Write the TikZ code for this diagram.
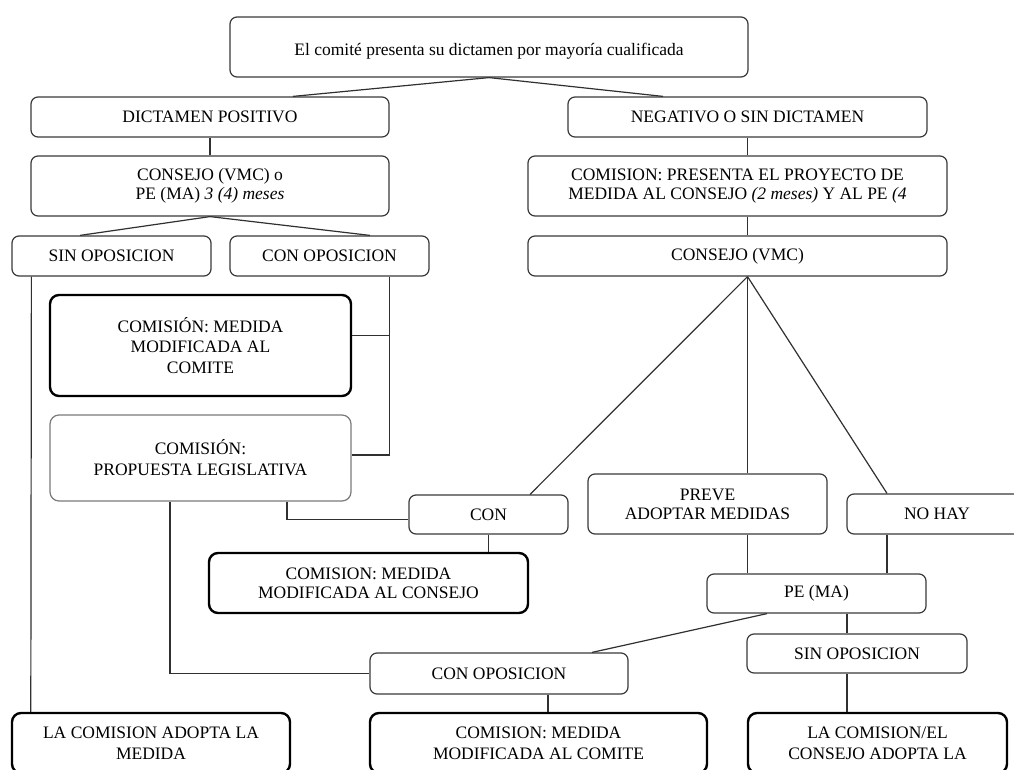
\documentclass[tikz,border=0pt]{standalone}
\usepackage{fontspec}
\setmainfont{Liberation Serif}
\definecolor{edgegray}{HTML}{3A3A3A}
\definecolor{softgray}{HTML}{7A7A7A}
\definecolor{linkgray}{HTML}{303030}
\tikzset{
  box/.style={draw=edgegray, line width=1.2pt, rounded corners=7pt, align=center, inner sep=2pt, fill=white},
  strongbox/.style={box, draw=black, line width=2.4pt, rounded corners=9pt},
  softbox/.style={box, draw=softgray, line width=1.2pt, rounded corners=9pt},
  link/.style={draw=linkgray, line width=1.2pt},
}
\begin{document}
\begin{tikzpicture}[x=1pt, y=-1pt, font=\fontsize{17.5}{19}\selectfont]
\useasboundingbox (0,0) rectangle (1014,770);
\clip (0,0) rectangle (1014,770);
\fill[white] (0,0) rectangle (1014,770);

% ---- boxes ----
\node[box, minimum width=518pt, minimum height=60pt] (top) at (489,47) {\raisebox{-4pt}[\height][\depth]{El comité presenta su dictamen por mayoría cualificada}};
\node[box, minimum width=358pt, minimum height=40pt] (dp) at (210,117) {DICTAMEN POSITIVO};
\node[box, minimum width=359pt, minimum height=40pt] (neg) at (747.5,117) {NEGATIVO O SIN DICTAMEN};
\node[box, minimum width=358pt, minimum height=60pt] (cvm) at (210,186) {CONSEJO (VMC) o\\PE (MA) \textit{3 (4) meses}};
\node[box, minimum width=419pt, minimum height=60pt] (cpr) at (737.5,186) {COMISION: PRESENTA EL PROYECTO DE\\MEDIDA AL CONSEJO \textit{(2 meses)} Y AL PE \textit{(4}};
\node[box, minimum width=199pt, minimum height=40pt] (sin) at (111.5,256) {SIN OPOSICION};
\node[box, minimum width=199pt, minimum height=40pt] (cono) at (329.5,256) {CON OPOSICION};
\node[box, minimum width=419pt, minimum height=40pt] (cv2) at (737.5,256) {CONSEJO (VMC)};
\node[strongbox, minimum width=301pt, minimum height=101pt, font=\fontsize{17.5}{20.5}\selectfont] (mod1) at (200.5,345.5) {COMISIÓN: MEDIDA\\MODIFICADA AL\\COMITE};
\node[softbox, minimum width=301pt, minimum height=86pt, font=\fontsize{17.5}{21}\selectfont] (prop) at (200.5,458) {COMISIÓN:\\PROPUESTA LEGISLATIVA};
\node[box, minimum width=159pt, minimum height=39pt] (con) at (488.5,514.5) {CON};
\node[box, minimum width=239pt, minimum height=60pt] (preve) at (707.5,504) {PREVE\\ADOPTAR MEDIDAS};
\node[box, minimum width=180pt, minimum height=40pt] (nohay) at (937,514) {NO HAY};
\node[strongbox, minimum width=319pt, minimum height=60pt] (modc) at (368.5,583) {COMISION: MEDIDA\\MODIFICADA AL CONSEJO};
\node[box, minimum width=219pt, minimum height=39pt] (pema) at (816.5,593.5) {PE (MA)};
\node[box, minimum width=258pt, minimum height=41pt] (conop) at (499,673.5) {CON OPOSICION};
\node[box, minimum width=220pt, minimum height=39pt] (sinop) at (857,653.5) {SIN OPOSICION};
\node[strongbox, minimum width=278pt, minimum height=60pt, font=\fontsize{17.5}{21}\selectfont] (bl) at (151,743) {LA COMISION ADOPTA LA\\MEDIDA};
\node[strongbox, minimum width=337pt, minimum height=60pt, font=\fontsize{17.5}{21}\selectfont] (bm) at (538.5,743) {COMISION: MEDIDA\\MODIFICADA AL COMITE};
\node[strongbox, minimum width=259pt, minimum height=60pt, font=\fontsize{17.5}{21}\selectfont] (br) at (877.5,743) {LA COMISION/EL\\CONSEJO ADOPTA LA};

% ---- connectors ----
\draw[link] (top.south) -- ([xshift=83pt]dp.north);
\draw[link] (top.south) -- ([xshift=-84.5pt]neg.north);
\draw[link] (dp.south) -- (cvm.north);
\draw[link] (neg.south) -- (neg.south |- cpr.north);
\draw[link] (neg.south |- cpr.south) -- (neg.south |- cv2.north);
\draw[link] (cvm.south) -- ([xshift=-31.5pt]sin.north);
\draw[link] (cvm.south) -- ([xshift=40.5pt]cono.north);
% fan below the Consejo
\coordinate (fan) at (neg.south |- cv2.south);
\draw[link] (fan) -- ([xshift=41.5pt]con.north);
\draw[link] (fan) -- (fan |- preve.north);
\draw[link] (fan) -- ([xshift=-50pt]nohay.north);
% left column
\draw[link] ([xshift=20pt]sin.south west) -- ([xshift=20pt]bl.north west);
\coordinate (oppo) at ([xshift=-40pt]cono.south east);
\draw[link] (oppo) |- ([yshift=3pt]prop.east);
\draw[link] ([yshift=10pt]mod1.east) -| (oppo);
\draw[link] ([xshift=-30.5pt]prop.south) |- (conop.west);
\draw[link] ([xshift=86.5pt]prop.south) |- ([yshift=-5pt]con.west);
\draw[link] (con.south) -- (con.south |- modc.north);
% right column
\draw[link] (fan |- preve.south) -- (fan |- pema.north);
\draw[link] ([xshift=-50pt]nohay.south) -- ([xshift=-50pt]nohay.south |- pema.north);
\draw[link] ([xshift=-49.5pt]pema.south) -- ([xshift=93pt]conop.north);
\draw[link] ([xshift=-10pt]sinop.north |- pema.south) -- ([xshift=-10pt]sinop.north);
\draw[link] ([xshift=-10pt]sinop.south) -- ([xshift=-10pt]sinop.south |- br.north);
\draw[link] ([xshift=49pt]conop.south) -- ([xshift=49pt]conop.south |- bm.north);
\end{tikzpicture}
\end{document}
